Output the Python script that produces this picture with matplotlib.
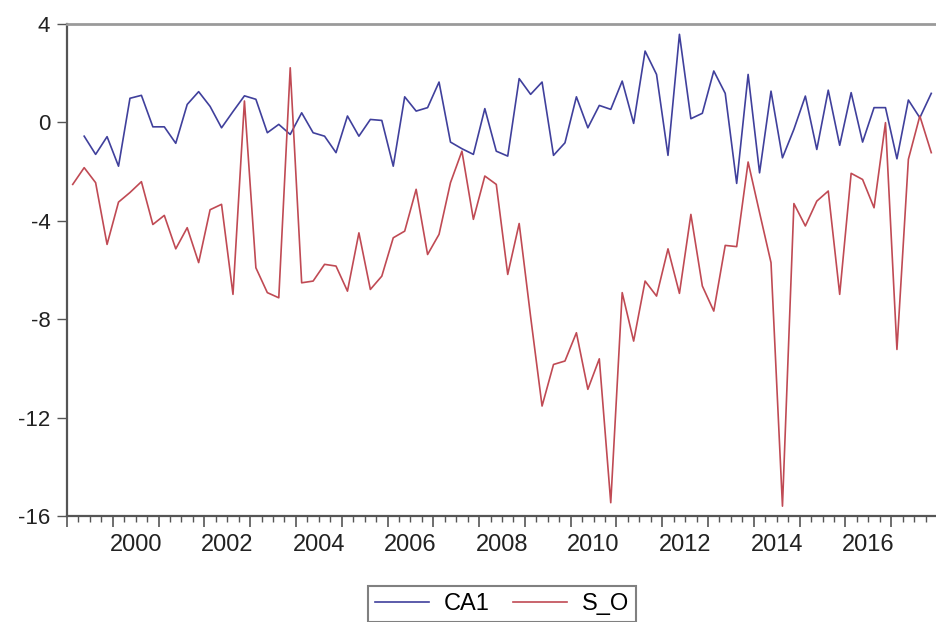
import matplotlib

matplotlib.use("Agg")
import matplotlib.pyplot as plt
import numpy as np
import pandas as pd
from matplotlib.ticker import FixedLocator, FuncFormatter

plt.rcParams["font.family"] = ["Liberation Sans", "DejaVu Sans"]
plt.rcParams["axes.unicode_minus"] = False

# quarterly sample, 1999Q1..2017Q4
quarters = pd.period_range("1999Q1", "2017Q4", freq="Q")

# S_O covers the full sample
s_o = [
    -2.52, -1.84, -2.45, -4.96, -3.24, -2.85, -2.41, -4.15,
    -3.78, -5.14, -4.28, -5.70, -3.55, -3.33, -6.99, 0.87,
    -5.91, -6.92, -7.13, 2.22, -6.52, -6.45, -5.77, -5.84,
    -6.86, -4.49, -6.79, -6.25, -4.69, -4.42, -2.72, -5.37,
    -4.55, -2.45, -1.17, -3.94, -2.18, -2.52, -6.18, -4.11,
    -7.90, -11.53, -9.84, -9.70, -8.55, -10.85, -9.61, -15.46,
    -6.92, -8.89, -6.45, -7.06, -5.14, -6.95, -3.74, -6.65,
    -7.67, -5.00, -5.05, -1.61, -3.67, -5.70, -15.60, -3.30,
    -4.21, -3.20, -2.79, -6.99, -2.07, -2.32, -3.47, -0.01,
    -9.23, -1.50, 0.26, -1.23,
]

# CA1 starts one quarter later (1999Q2)
ca1 = [
    -0.56, -1.30, -0.58, -1.78, 0.98, 1.10, -0.18, -0.18,
    -0.85, 0.73, 1.25, 0.65, -0.22, 0.44, 1.08, 0.94,
    -0.42, -0.08, -0.49, 0.39, -0.42, -0.56, -1.23, 0.26,
    -0.56, 0.12, 0.08, -1.78, 1.04, 0.46, 0.60, 1.64,
    -0.80, -1.07, -1.30, 0.56, -1.17, -1.37, 1.78, 1.14,
    1.64, -1.34, -0.83, 1.04, -0.22, 0.69, 0.53, 1.68,
    -0.04, 2.90, 1.95, -1.34, 3.58, 0.15, 0.37, 2.09,
    1.18, -2.48, 1.95, -2.05, 1.27, -1.44, -0.28, 1.07,
    -1.10, 1.31, -0.93, 1.21, -0.80, 0.60, 0.60, -1.48,
    0.91, 0.19, 1.18,
]

# plot each quarter at the middle of its period, in decimal years
xq = np.array([p.year + (p.quarter - 1) / 4 + 0.125 for p in quarters])
x_ca1 = xq[len(xq) - len(ca1):]

BLUE = "#40409c"
RED = "#c04a54"
AXIS = "#555555"

fig = plt.figure(figsize=(9.36, 6.22), dpi=100)
ax = fig.add_axes([67 / 936, 1 - 516 / 622, 870 / 936, 492 / 622])

l1, = ax.plot(x_ca1, ca1, color=BLUE, lw=1.2)
l2, = ax.plot(xq, s_o, color=RED, lw=1.2)

ax.set_xlim(1999, 2018)
ax.set_ylim(-16, 4)

ax.spines["right"].set_visible(False)
ax.spines["top"].set_color("#9a9a9a")
ax.spines["top"].set_linewidth(2.0)
for s in ("left", "bottom"):
    ax.spines[s].set_color(AXIS)
    ax.spines[s].set_linewidth(1.6)

ax.set_yticks([4, 0, -4, -8, -12, -16])
ax.tick_params(axis="y", direction="out", length=7, width=1.0, color=AXIS,
               labelsize=16, labelcolor="#222222", pad=5)

# year boundaries as major ticks, quarters as minor; year labels sit mid-year
years = np.arange(1999, 2019)
ax.xaxis.set_major_locator(FixedLocator(years))
ax.xaxis.set_major_formatter(FuncFormatter(lambda v, pos: ""))
minor = [y + f for y in years[:-1] for f in (0.25, 0.5, 0.75)]
ax.xaxis.set_minor_locator(FixedLocator(minor))


def year_label(v, pos):
    yr = int(np.floor(v))
    if abs(v - yr - 0.5) < 1e-6 and yr % 2 == 0:
        return str(yr)
    return ""


ax.xaxis.set_minor_formatter(FuncFormatter(year_label))
ax.tick_params(axis="x", which="major", direction="out", length=8, width=1.2, color=AXIS)
ax.tick_params(axis="x", which="minor", direction="out", length=4, width=1.0, color=AXIS,
               labelsize=17, labelcolor="#222222", pad=9)

leg = fig.legend([l1, l2], ["CA1", "S_O"], loc="center",
                 bbox_to_anchor=(502 / 936, 1 - 604 / 622), ncol=2,
                 frameon=True, fancybox=False, edgecolor="#808080", framealpha=1,
                 fontsize=17, handlelength=2.3, handletextpad=0.6,
                 columnspacing=1.0, borderpad=0.3)
leg.get_frame().set_linewidth(1.5)

fig.savefig("out.png", dpi=100)
plt.close(fig)
